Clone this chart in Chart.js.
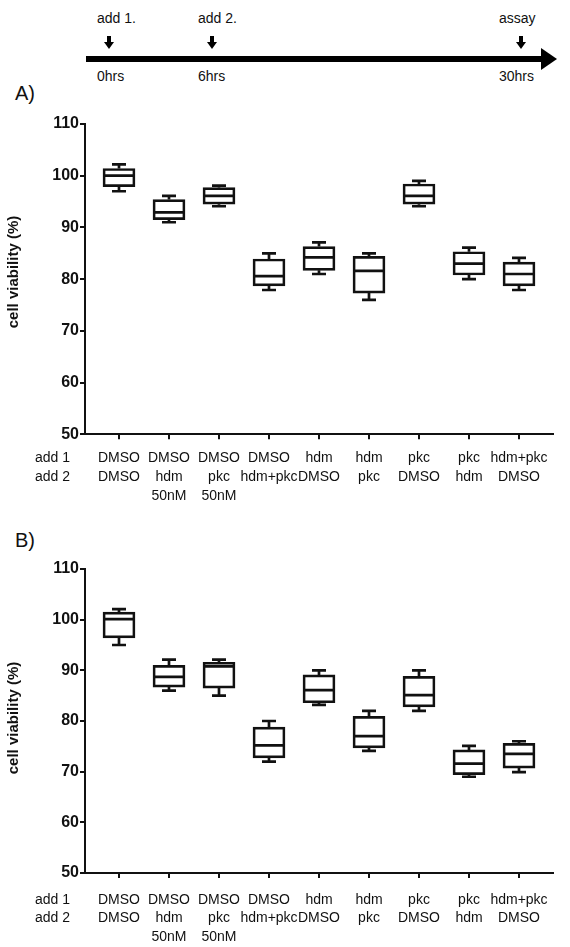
<!DOCTYPE html>
<html>
<head>
<meta charset="utf-8">
<script src="https://cdn.jsdelivr.net/npm/chart.js@4.4.1/dist/chart.umd.min.js"></script>
<style>
body { margin: 0; width: 570px; height: 947px; background: #fff; position: relative; overflow: hidden;
       font-family: "Liberation Sans", Arial, sans-serif; color: #111; }
.t { position: absolute; font-size: 14px; line-height: 16px; white-space: nowrap; }
.panel { position: absolute; font-size: 20px; line-height: 22px; }
canvas { position: absolute; left: 0; }
#line { position: absolute; left: 86px; top: 56px; width: 456px; height: 6px; background: #000; }
#head { position: absolute; left: 541px; top: 48px; width: 0; height: 0;
        border-top: 11px solid transparent; border-bottom: 11px solid transparent; border-left: 16px solid #000; }
.down { position: absolute; top: 36px; width: 10px; height: 13px; }
.down:before { content: ""; position: absolute; left: 3px; top: 0; width: 4px; height: 8px; background: #000; }
.down:after { content: ""; position: absolute; left: 0; top: 6px; width: 0; height: 0;
              border-left: 5px solid transparent; border-right: 5px solid transparent; border-top: 7px solid #000; }
</style>
</head>
<body>
<!-- timeline -->
<div class="t" style="left:97px;top:10px">add 1.</div>
<div class="t" style="left:198px;top:10px">add 2.</div>
<div class="t" style="left:499px;top:10px">assay</div>
<div class="down" style="left:104px"></div>
<div class="down" style="left:207px"></div>
<div class="down" style="left:516px"></div>
<div id="line"></div>
<div id="head"></div>
<div class="t" style="left:97px;top:68px">0hrs</div>
<div class="t" style="left:198px;top:68px">6hrs</div>
<div class="t" style="left:499px;top:68px">30hrs</div>

<div class="panel" style="left:15px;top:82px">A)</div>
<div class="panel" style="left:15px;top:529px">B)</div>

<canvas id="chartA" width="570" height="440" style="top:100px"></canvas>
<canvas id="chartB" width="570" height="402" style="top:545px"></canvas>

<script>
// treatments per group
var add1 = ['DMSO', 'DMSO', 'DMSO', 'DMSO', 'hdm', 'hdm', 'pkc', 'pkc', 'hdm+pkc'];
var add2 = ['DMSO', 'hdm', 'pkc', 'hdm+pkc', 'DMSO', 'pkc', 'DMSO', 'hdm', 'DMSO'];
var dose = ['', '50nM', '50nM', '', '', '', '', '', ''];
var rowNames = ['add 1', 'add 2'];
var yTitle = 'cell viability (%)';
var yTicks = [50, 60, 70, 80, 90, 100, 110];

// A) box plot values (whisker low, q1, median, q3, whisker high)
var minA = [97, 91, 94.1, 77.9, 81, 76, 94.1, 80, 77.9];
var q1A = [97.9, 91.5, 94.5, 78.7, 81.7, 77.3, 94.5, 80.8, 78.7];
var medA = [100, 92.9, 96.1, 80.6, 84.2, 81.6, 96.1, 83, 81];
var q3A = [101.4, 95.4, 97.7, 83.9, 86.3, 84.4, 98.4, 85.3, 83.3];
var maxA = [102.2, 96.1, 98.1, 85, 87.1, 85, 99, 86.1, 84.1];

// B)
var minB = [95, 86, 85, 72, 83.2, 74.1, 82, 69, 69.9];
var q1B = [96.4, 86.7, 86.5, 72.7, 83.6, 74.7, 82.8, 69.4, 70.7];
var medB = [100.1, 88.7, 90.8, 75.2, 86.1, 77, 85.1, 71.6, 73.5];
var q3B = [101.5, 91, 91.6, 78.8, 89.1, 80.9, 88.8, 74.3, 75.6];
var maxB = [102.1, 92.1, 92.1, 80, 90, 82, 90, 75.1, 76];

var FONT = '"Liberation Sans", Arial, sans-serif';
Chart.defaults.font.family = FONT;
Chart.defaults.color = '#111';

// whiskers, caps and median line on top of the q1-q3 bars
var whiskers = {
    id: 'whiskers',
    afterDatasetsDraw: function (chart) {
        var ds = chart.data.datasets[0];
        var xs = chart.scales.x, ys = chart.scales.y, ctx = chart.ctx;
        ctx.save();
        ctx.strokeStyle = '#111';
        ctx.lineWidth = 2.7;
        ds.data.forEach(function (d, i) {
            var x = xs.getPixelForValue(d.x);
            var yHi = ys.getPixelForValue(ds.whiskerHigh[i]);
            var yLo = ys.getPixelForValue(ds.whiskerLow[i]);
            var yQ1 = ys.getPixelForValue(d.y[0]);
            var yQ3 = ys.getPixelForValue(d.y[1]);
            var yMed = ys.getPixelForValue(ds.median[i]);
            ctx.beginPath();
            ctx.moveTo(x, yHi); ctx.lineTo(x, yQ3);
            ctx.moveTo(x, yQ1); ctx.lineTo(x, yLo);
            ctx.moveTo(x - 7, yHi); ctx.lineTo(x + 7, yHi);
            ctx.moveTo(x - 7, yLo); ctx.lineTo(x + 7, yLo);
            ctx.moveTo(x - 15, yMed); ctx.lineTo(x + 15, yMed);
            ctx.stroke();
        });
        ctx.restore();
    }
};

// "add 1 / add 2" row names and the rotated y title
function sideText(titleY, pad, lh) {
    return {
        id: 'sideText',
        afterDraw: function (chart) {
            var ctx = chart.ctx, xs = chart.scales.x;
            ctx.save();
            ctx.fillStyle = '#111';
            ctx.font = '14px ' + FONT;
            ctx.textAlign = 'left';
            ctx.textBaseline = 'middle';
            var y0 = xs.top + 5 + pad + lh / 2;
            rowNames.forEach(function (n, i) { ctx.fillText(n, 35, y0 + i * lh); });
            ctx.translate(14, titleY);
            ctx.rotate(-Math.PI / 2);
            ctx.font = 'bold 15px ' + FONT;
            ctx.textAlign = 'center';
            ctx.fillText(yTitle, 0, 0);
            ctx.restore();
        }
    };
}

function boxChart(id, lo, q1, med, q3, hi, o) {
    return new Chart(document.getElementById(id), {
        type: 'bar',
        data: {
            datasets: [{
                data: add1.map(function (c, i) { return { x: i, y: [q1[i], q3[i]] }; }),
                whiskerLow: lo,
                median: med,
                whiskerHigh: hi,
                backgroundColor: '#fff',
                borderColor: '#111',
                borderWidth: 2.7,
                borderSkipped: false,
                barThickness: 32
            }]
        },
        options: {
            responsive: false,
            animation: false,
            layout: { padding: { top: 24, right: 17, bottom: 0, left: 0 } },
            plugins: { legend: { display: false }, tooltip: { enabled: false } },
            scales: {
                x: {
                    type: 'linear',
                    min: -0.68,
                    max: 8.68,
                    offset: false,
                    afterFit: function (s) { s.height = o.xHeight; },
                    afterBuildTicks: function (s) {
                        s.ticks = add1.map(function (c, i) { return { value: i }; });
                    },
                    grid: { drawOnChartArea: false, offset: false, tickLength: 5, color: '#111', lineWidth: 2 },
                    border: { display: true, color: '#111', width: 2 },
                    ticks: {
                        padding: o.pad,
                        maxRotation: 0,
                        autoSkip: false,
                        color: '#111',
                        font: { size: 14, lineHeight: o.lh / 14 },
                        callback: function (v) {
                            return [add1[v], add2[v], dose[v]].filter(function (s) { return s; });
                        }
                    }
                },
                y: {
                    min: yTicks[0],
                    max: yTicks[yTicks.length - 1],
                    afterFit: function (s) { s.width = 85; },
                    afterBuildTicks: function (s) {
                        s.ticks = yTicks.map(function (v) { return { value: v }; });
                    },
                    grid: { drawOnChartArea: false, tickLength: 5, color: '#111', lineWidth: 2 },
                    border: { display: true, color: '#111', width: 2 },
                    ticks: { padding: 1, color: '#111', font: { size: 16, weight: 'bold' } }
                }
            }
        },
        plugins: [whiskers, sideText(o.titleY, o.pad, o.lh)]
    });
}

boxChart('chartA', minA, q1A, medA, q3A, maxA, { xHeight: 105.7, pad: 9, lh: 19, titleY: 172 });
boxChart('chartB', minB, q1B, medB, q3B, maxB, { xHeight: 74, pad: 12.5, lh: 18.5, titleY: 173 });
</script>
</body>
</html>
